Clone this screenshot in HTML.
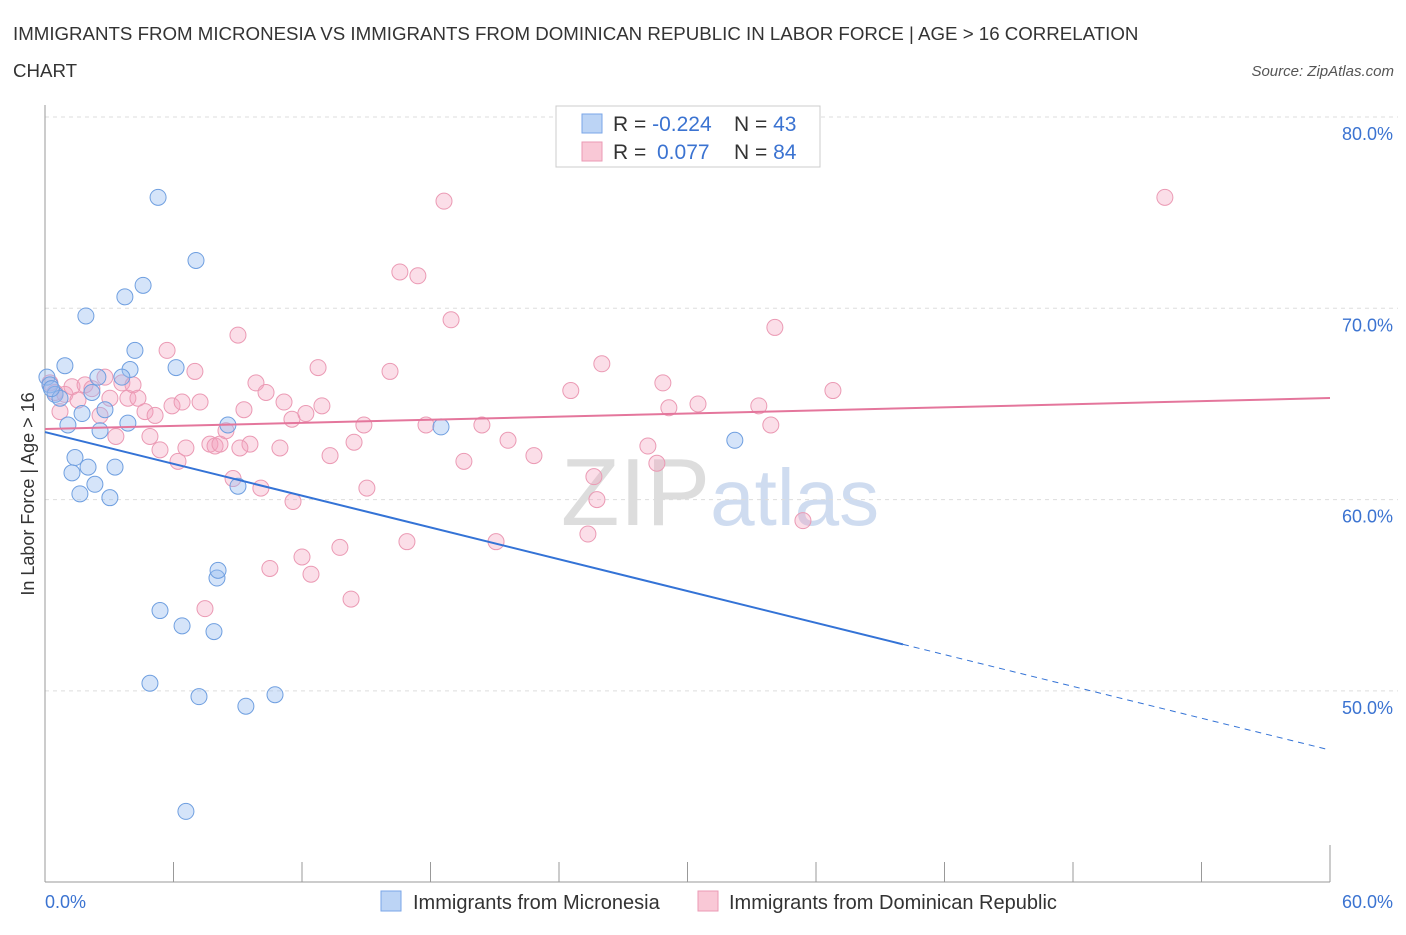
<!DOCTYPE html>
<html><head><meta charset="utf-8">
<style>
body{margin:0;background:#fff;font-family:"Liberation Sans",sans-serif;}
svg text{font-family:"Liberation Sans",sans-serif;}
</style></head>
<body>
<svg id="chart" width="1406" height="930" viewBox="0 0 1406 930" xmlns="http://www.w3.org/2000/svg">
<text x="13" y="40" font-size="18.7" fill="#333">IMMIGRANTS FROM MICRONESIA VS IMMIGRANTS FROM DOMINICAN REPUBLIC IN LABOR FORCE | AGE &gt; 16 CORRELATION</text>
<text x="13" y="77" font-size="18.7" fill="#333">CHART</text>
<text x="1394" y="76" font-size="15" fill="#555" text-anchor="end" font-style="italic">Source: ZipAtlas.com</text>
<text x="720" y="525" font-size="96" text-anchor="middle" fill="#ddd" font-family="Liberation Serif">ZIP<tspan fill="#cfdcf0" font-family="Liberation Sans" font-size="80">atlas</tspan></text>
<g id="grid"></g>
<g id="axes"></g>
<g id="marks"></g>
<g id="lines"></g>
<text transform="translate(34,494) rotate(-90)" font-size="18" fill="#333" text-anchor="middle">In Labor Force | Age &gt; 16</text>
<g>
<rect x="556" y="106" width="264" height="61" fill="#fff" stroke="#ccc"/>
<rect x="582" y="114" width="20" height="19" fill="#bcd4f5" stroke="#7aa6e8"/>
<rect x="582" y="142" width="20" height="19" fill="#f9c8d6" stroke="#eb9ab4"/>
<text x="613" y="131" font-size="21" fill="#333">R = <tspan fill="#3b73d1">-0.224</tspan></text>
<text x="734" y="131" font-size="21" fill="#333">N = <tspan fill="#3b73d1">43</tspan></text>
<text x="613" y="159" font-size="21" fill="#333">R = <tspan x="657" fill="#3b73d1">0.077</tspan></text>
<text x="734" y="159" font-size="21" fill="#333">N = <tspan fill="#3b73d1">84</tspan></text>
</g>
<g>
<rect x="381" y="891" width="20" height="20" fill="#bcd4f5" stroke="#7aa6e8"/>
<text x="413" y="909" font-size="20" fill="#333">Immigrants from Micronesia</text>
<rect x="698" y="891" width="20" height="20" fill="#f9c8d6" stroke="#eb9ab4"/>
<text x="729" y="909" font-size="20" fill="#333">Immigrants from Dominican Republic</text>
</g>
</svg>
<script>
const yTicks=[50,60,70,80];
const yTickLabels=["50.0%","60.0%","70.0%","80.0%"];
const xTicks=[0,6,12,18,24,30,36,42,48,54,60];
const xEndLabels=["0.0%","60.0%"];
const blueX=[0.09,0.23,0.47,0.93,0.70,1.07,1.40,1.26,1.63,2.01,1.91,2.33,1.73,2.19,2.47,2.57,2.80,3.03,3.27,0.30,3.87,3.97,4.20,3.59,3.73,4.58,5.28,6.12,7.05,5.37,6.40,7.89,8.03,8.08,4.90,7.19,9.38,10.74,6.58,8.54,9.01,18.49,32.21];
const blueY=[66.4,66.0,65.5,67.0,65.3,63.9,62.2,61.4,60.3,61.7,69.6,60.8,64.5,65.6,66.4,63.6,64.7,60.1,61.7,65.8,64.0,66.8,67.8,66.4,70.6,71.2,75.8,66.9,72.5,54.2,53.4,53.1,55.9,56.3,50.4,49.7,49.2,49.8,43.7,63.9,60.7,63.8,63.1];
const pinkX=[0.23,0.47,0.70,0.93,1.26,1.54,1.87,2.19,2.57,2.80,3.03,3.31,3.59,3.87,4.11,4.34,4.67,4.90,5.14,5.37,5.70,5.93,6.21,6.40,6.58,7.00,7.24,7.47,7.70,7.94,8.17,8.45,8.78,9.01,9.29,9.57,9.85,10.08,10.32,10.50,10.97,11.16,11.53,11.58,12.00,12.18,12.42,12.75,12.93,13.31,13.77,14.29,14.43,14.89,15.03,16.11,16.57,16.90,17.41,17.79,18.63,18.96,19.56,20.40,21.06,21.62,22.83,24.55,25.35,25.63,25.77,26.00,28.15,28.57,28.85,29.13,30.49,33.33,33.89,34.08,35.39,36.79,52.29,9.10];
const pinkY=[66.1,65.6,64.6,65.5,65.9,65.2,66.0,65.8,64.4,66.4,65.3,63.3,66.1,65.3,66.0,65.3,64.6,63.3,64.4,62.6,67.8,64.9,62.0,65.1,62.7,66.7,65.1,54.3,62.9,62.8,62.9,63.6,61.1,68.6,64.7,62.9,66.1,60.6,65.6,56.4,62.7,65.1,64.2,59.9,57.0,64.5,56.1,66.9,64.9,62.3,57.5,54.8,63.0,63.9,60.6,66.7,71.9,57.8,71.7,63.9,75.6,69.4,62.0,63.9,57.8,63.1,62.3,65.7,58.2,61.2,60.0,67.1,62.8,61.9,66.1,64.8,65.0,64.9,63.9,69.0,58.9,65.7,75.8,62.7];
const blueLine=[63.53,46.91];
const blueSolidEnd=40.06;
const pinkLine=[63.69,65.31];

const NS="http://www.w3.org/2000/svg";
const X0=45,X1=1330,YTOP=117,PXPER=19.13;
function sx(v){return X0+(X1-X0)*v/60;}
function sy(v){return YTOP+(80-v)*PXPER;}
function mk(tag,attrs,parent){const e=document.createElementNS(NS,tag);for(const k in attrs)e.setAttribute(k,attrs[k]);parent.appendChild(e);return e;}
const grid=document.getElementById('grid'),axes=document.getElementById('axes'),marks=document.getElementById('marks'),lines=document.getElementById('lines');
yTicks.forEach((t,i)=>{
  const l=mk('line',{x1:X0,x2:1398,y1:sy(t),y2:sy(t),stroke:'#ddd','stroke-dasharray':'4,4'},grid);
  
  
  const tx=mk('text',{x:1393,y:sy(t)+23,'font-size':18,fill:'#3b73d1','text-anchor':'end'},axes);
  tx.textContent=yTickLabels[i];
  
  
});
const ax=mk('line',{x1:X0,x2:X0,y1:105,y2:882,stroke:'#999'},axes);


const bx=mk('line',{x1:X0,x2:X1,y1:882,y2:882,stroke:'#999'},axes);


xTicks.forEach(t=>{
  const l=mk('line',{x1:sx(t),x2:sx(t),y1:t==60||t==0?845:862,y2:882,stroke:'#999'},axes);
  
  
});
const xl0=mk('text',{x:45,y:908,'font-size':18,fill:'#3b73d1'},axes);xl0.textContent=xEndLabels[0];


const xl1=mk('text',{x:1393,y:908,'font-size':18,fill:'#3b73d1','text-anchor':'end'},axes);xl1.textContent=xEndLabels[1];


pinkX.forEach((x,i)=>{
  const c=mk('circle',{cx:sx(x),cy:sy(pinkY[i]),r:8,fill:'rgba(244,160,188,0.35)',stroke:'#eb9ab4','stroke-width':1},marks);
  
  
});
blueX.forEach((x,i)=>{
  const c=mk('circle',{cx:sx(x),cy:sy(blueY[i]),r:8,fill:'rgba(150,188,240,0.4)',stroke:'#6f9fe0','stroke-width':1},marks);
  
  
});
function by(x){return blueLine[0]+(blueLine[1]-blueLine[0])*x/60;}
const b1=mk('line',{x1:sx(0),y1:sy(by(0)),x2:sx(blueSolidEnd),y2:sy(by(blueSolidEnd)),stroke:'#3473d6','stroke-width':2},lines);


const b2=mk('line',{x1:sx(blueSolidEnd),y1:sy(by(blueSolidEnd)),x2:sx(60),y2:sy(by(60)),stroke:'#3473d6','stroke-width':1,'stroke-dasharray':'6,5'},lines);


const p1=mk('line',{x1:sx(0),y1:sy(pinkLine[0]),x2:sx(60),y2:sy(pinkLine[1]),stroke:'#e4769c','stroke-width':2},lines);


</script>
</body></html>
